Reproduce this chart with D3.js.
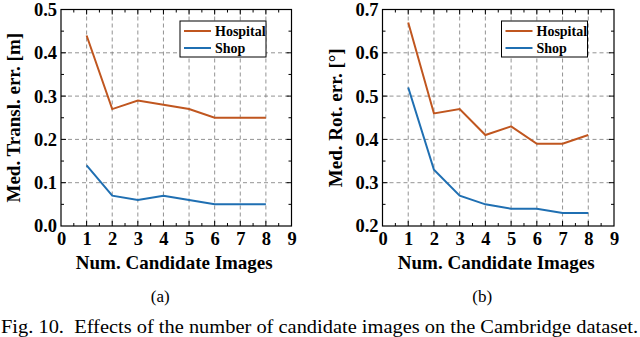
<!DOCTYPE html>
<html lang="en">
<head>
<meta charset="utf-8">
<style>
    body { margin: 0; background: #fff; }
    svg text { font-family: "Liberation Serif", "Times New Roman", serif; }
    .tick text { font-weight: bold; font-size: 18.5px; }
    .axlabel { font-weight: bold; font-size: 19px; }
    .grid line { stroke: #777; stroke-dasharray: 4,3; stroke-width: 0.8; }
</style>
<script src="https://cdn.jsdelivr.net/npm/d3@7/dist/d3.min.js"></script>
</head>
<body>
<svg id="chart" width="640" height="337" font-family="Liberation Serif, serif"></svg>
<script>
    var candidates = [1, 2, 3, 4, 5, 6, 7, 8];
    var xTicks = [0, 1, 2, 3, 4, 5, 6, 7, 8, 9];

    var translHospital = [0.44, 0.27, 0.29, 0.28, 0.27, 0.25, 0.25, 0.25];
    var translShop = [0.14, 0.07, 0.06, 0.07, 0.06, 0.05, 0.05, 0.05];
    var translTicks = [0.0, 0.1, 0.2, 0.3, 0.4, 0.5];

    var rotHospital = [0.67, 0.46, 0.47, 0.41, 0.43, 0.39, 0.39, 0.41];
    var rotShop = [0.52, 0.33, 0.27, 0.25, 0.24, 0.24, 0.23, 0.23];
    var rotTicks = [0.2, 0.3, 0.4, 0.5, 0.6, 0.7];

    var seriesNames = ["Hospital", "Shop"];
    var colors = ["#c0561f", "#1f6fb2"];

    var svg = d3.select("#chart");

    function panel(left, right, yTicks, series, ylabel, sub) {
        var top = 9.5, bottom = 226;
        var x = d3.scaleLinear().domain([0, 9]).range([left, right]);
        var y = d3.scaleLinear().domain([yTicks[0], yTicks[yTicks.length - 1]]).range([bottom, top]);
        var g = svg.append("g");

        // dashed grid
        var grid = g.append("g").attr("class", "grid");
        grid.selectAll(".vx").data(xTicks.slice(1, -1)).enter().append("line")
            .attr("x1", function(d) { return x(d); }).attr("x2", function(d) { return x(d); })
            .attr("y1", top).attr("y2", bottom);
        grid.selectAll(".hy").data(yTicks.slice(1, -1)).enter().append("line")
            .attr("x1", left).attr("x2", right)
            .attr("y1", function(d) { return y(d); }).attr("y2", function(d) { return y(d); });

        // minor ticks on all four sides
        var xMinor = d3.range(0.5, 9, 0.5);
        var step = yTicks[1] - yTicks[0];
        var yMinor = d3.range(yTicks[0] + step / 2, yTicks[yTicks.length - 1], step / 2);
        var tk = g.append("g").attr("stroke", "#000").attr("stroke-width", 1);
        xMinor.forEach(function(d) {
            var len = (d % 1 === 0) ? 5 : 3;
            tk.append("line").attr("x1", x(d)).attr("x2", x(d)).attr("y1", bottom).attr("y2", bottom - len);
            tk.append("line").attr("x1", x(d)).attr("x2", x(d)).attr("y1", top).attr("y2", top + len);
        });
        yMinor.forEach(function(d, i) {
            var len = (i % 2 === 1) ? 5 : 3;
            tk.append("line").attr("y1", y(d)).attr("y2", y(d)).attr("x1", left).attr("x2", left + len);
            tk.append("line").attr("y1", y(d)).attr("y2", y(d)).attr("x1", right).attr("x2", right - len);
        });

        // axes with labels only
        var xa = g.append("g").attr("transform", "translate(0," + bottom + ")")
            .call(d3.axisBottom(x).tickValues(xTicks).tickSize(0).tickPadding(6).tickFormat(d3.format("d")));
        xa.attr("font-family", null).attr("font-size", null);
        xa.select(".domain").remove();
        xa.selectAll("text").attr("fill", "#000");
        var ya = g.append("g").attr("transform", "translate(" + left + ",0)")
            .call(d3.axisLeft(y).tickValues(yTicks).tickSize(0).tickPadding(4).tickFormat(d3.format(".1f")));
        ya.attr("font-family", null).attr("font-size", null);
        ya.select(".domain").remove();
        ya.selectAll("text").attr("fill", "#000");

        // series lines
        var line = d3.line()
            .x(function(d, i) { return x(candidates[i]); })
            .y(function(d) { return y(d); });
        series.forEach(function(s, i) {
            g.append("path").datum(s)
                .attr("fill", "none").attr("stroke", colors[i]).attr("stroke-width", 2)
                .attr("d", line);
        });

        // frame
        g.append("rect").attr("x", left).attr("y", top)
            .attr("width", right - left).attr("height", bottom - top)
            .attr("fill", "none").attr("stroke", "#000").attr("stroke-width", 1.2);

        // legend
        var lx = left + 119, ly = 21;
        var lg = g.append("g");
        lg.append("rect").attr("x", lx).attr("y", ly).attr("width", 86).attr("height", 36)
            .attr("fill", "#fff").attr("stroke", "#000").attr("stroke-width", 1);
        seriesNames.forEach(function(n, i) {
            var yy = ly + 10 + i * 17;
            lg.append("line").attr("x1", lx + 4).attr("x2", lx + 31)
                .attr("y1", yy).attr("y2", yy).attr("stroke", colors[i]).attr("stroke-width", 2);
            lg.append("text").attr("x", lx + 35).attr("y", yy + 4.5)
                .attr("font-weight", "bold").attr("font-size", "14px").text(n);
        });

        // axis titles
        g.append("text").attr("class", "axlabel")
            .attr("x", (left + right) / 2 - 2).attr("y", 269)
            .attr("text-anchor", "middle").text("Num. Candidate Images");
        g.append("text").attr("class", "axlabel")
            .attr("transform", "translate(" + (left - 41) + "," + ((top + bottom) / 2) + ") rotate(-90)")
            .attr("text-anchor", "middle").text(ylabel);
        g.append("text").attr("x", (left + right) / 2 - 16).attr("y", 302)
            .attr("text-anchor", "middle").attr("font-size", "17px").text(sub);
    }

    panel(61, 291.5, translTicks, [translHospital, translShop], "Med. Transl. err. [m]", "(a)");
    panel(382.5, 614, rotTicks, [rotHospital, rotShop], "Med. Rot. err. [\u00b0]", "(b)");

    svg.append("text").attr("x", 1).attr("y", 333)
        .attr("font-size", "18px")
        .attr("textLength", 637).attr("lengthAdjust", "spacingAndGlyphs")
        .attr("xml:space", "preserve")
        .text("Fig. 10.  Effects of the number of candidate images on the Cambridge dataset.");
</script>
</body>
</html>
